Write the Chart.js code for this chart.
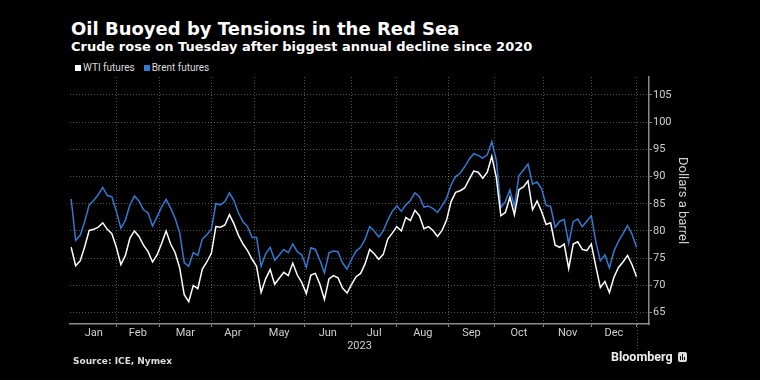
<!DOCTYPE html>
<html>
<head>
<meta charset="utf-8">
<script src="https://cdn.jsdelivr.net/npm/chart.js@4"></script>
<style>
  body { margin: 0; background: #000; width: 760px; height: 380px; overflow: hidden; position: relative; font-family: Roboto, "Noto Sans", sans-serif; color: #fff; }
  .txt { position: absolute; line-height: 1; white-space: nowrap; }
  #title { left: 71px; top: 20px; font-size: 18px; font-weight: bold; font-family: "DejaVu Sans", sans-serif; }
  #subtitle { left: 71px; top: 40px; font-size: 13px; font-weight: bold; font-family: "DejaVu Sans", sans-serif; }
  #legend { left: 75px; top: 63px; font-size: 10px; color: #ddd; display: flex; align-items: center; }
  #legend span.box { display: inline-block; width: 6px; height: 6px; margin-right: 2px; }
  #legend span.item { margin-right: 9px; display: flex; align-items: center; }
  #source { left: 73px; top: 357px; font-size: 9px; font-weight: bold; color: #ddd; font-family: "DejaVu Sans", sans-serif; }
  #logo { left: 611px; top: 351px; font-size: 12.5px; font-weight: bold; color: #eee; display: flex; align-items: center; }
  #logo svg { margin-left: 5px; }
  #wrap { position: absolute; left: 0; top: 0; width: 760px; height: 380px; }
</style>
</head>
<body>
<div id="title" class="txt">Oil Buoyed by Tensions in the Red Sea</div>
<div id="subtitle" class="txt">Crude rose on Tuesday after biggest annual decline since 2020</div>
<div id="legend" class="txt">
  <span class="item"><span class="box" style="background:#fff"></span>WTI futures</span>
  <span class="item"><span class="box" style="background:#3478d0"></span>Brent futures</span>
</div>
<div id="wrap"><canvas id="chart"></canvas></div>
<div id="source" class="txt">Source: ICE, Nymex</div>
<div id="logo" class="txt">Bloomberg<svg width="9" height="10" viewBox="0 0 9 10"><rect x="0" y="0" width="9" height="10" rx="2" fill="#ddd"/><rect x="2" y="4" width="1" height="4" fill="#000"/><rect x="4" y="2" width="1" height="6" fill="#000"/><rect x="6" y="5" width="1" height="3" fill="#000"/></svg></div>
<script>
// eixo x em dias de negociação (0 = início de jan/2023)
const monthStarts = [0, 20, 39, 62, 81, 103, 124, 144, 167, 187, 209, 230, 250];
const monthLabels = ["Jan", "Feb", "Mar", "Apr", "May", "Jun", "Jul", "Aug", "Sep", "Oct", "Nov", "Dec"];
const yearLabel = "2023";
const yTicks = [65, 67.5, 70, 72.5, 75, 77.5, 80, 82.5, 85, 87.5, 90, 92.5, 95, 97.5, 100, 102.5, 105];
const dayStep = 2; // um valor a cada 2 pregões

// Dólares por barril
const wti = [77.0, 73.6, 74.5, 77.1, 80.1, 80.3, 80.7, 81.5, 80.3, 79.5,
  77.0, 73.8, 75.5, 78.7, 80.0, 79.0, 77.4, 76.2, 74.3, 75.6,
  77.7, 80.0, 77.6, 76.0, 73.2, 68.3, 67.0, 70.0, 69.4, 73.0,
  74.3, 75.9, 80.8, 80.7, 81.1, 83.0, 81.3, 79.2, 77.6, 76.4,
  74.8, 73.5, 68.7, 71.2, 72.9, 70.2, 71.3, 72.4, 71.8, 74.1,
  71.9, 70.5, 68.5, 71.9, 72.2, 70.2, 67.4, 71.2, 71.8, 71.4,
  69.5, 68.6, 70.2, 71.6, 72.2, 74.0, 76.6, 75.8, 74.8, 75.7,
  78.5, 79.6, 80.8, 80.0, 82.5, 81.9, 83.8, 82.8, 80.4, 80.8,
  80.1, 79.0, 80.1, 82.0, 85.4, 87.1, 87.4, 87.9, 89.5, 91.0,
  90.8, 89.7, 90.8, 93.7, 89.8, 82.8, 83.4, 86.2, 83.0, 87.6,
  88.1, 89.2, 83.9, 85.5, 83.6, 81.2, 81.5, 77.4, 77.0, 77.6,
  73.1, 77.6, 78.0, 76.6, 76.4, 77.6, 73.5, 69.6, 70.7, 68.7,
  71.5, 73.3, 74.3, 75.5, 73.8, 71.6];
const brent = [85.9, 78.3, 79.2, 81.7, 84.8, 85.6, 86.7, 88.0, 86.5, 86.3,
  83.6, 80.5, 82.0, 84.8, 86.4, 85.5, 83.9, 83.3, 80.9, 82.6,
  84.4, 85.8, 84.2, 82.3, 79.7, 74.2, 73.5, 76.0, 75.5, 78.5,
  79.3, 80.3, 85.0, 84.8, 85.4, 87.0, 85.6, 83.3, 81.7, 80.8,
  78.8, 78.8, 73.5, 75.8, 77.0, 74.6, 75.6, 76.6, 76.0, 77.6,
  76.2, 75.6, 73.3, 76.9, 76.6, 74.6, 72.3, 76.0, 76.3, 76.2,
  74.1, 73.0, 74.8, 76.3, 77.0, 78.5, 80.8, 80.0, 78.9, 80.0,
  82.0, 83.6, 84.6, 83.6, 84.8, 85.6, 87.0, 86.3, 84.4, 84.6,
  84.1, 83.4, 84.6, 86.0, 88.5, 90.0, 90.6, 91.8, 93.2, 94.2,
  93.9, 93.4, 94.0, 96.4, 93.0, 84.3, 85.4, 87.6, 84.5, 90.2,
  91.2, 92.3, 88.6, 89.0, 87.8, 84.7, 84.5, 80.7, 81.8, 82.1,
  77.7, 81.7, 82.2, 80.8, 81.8, 82.8, 78.0, 74.5, 75.6, 73.2,
  76.3, 78.1, 79.5, 81.0, 79.4, 77.0];

const gridColor = "rgba(255,255,255,0.32)";
const axisColor = "#8a8a8a";
const tickTextColor = "#d0d0d0";

// ticks do eixo x: fronteiras dos meses (grade) e meios dos meses (rótulos)
const boundaries = monthStarts.slice(1);
const midLabels = new Map();
for (let i = 0; i < monthLabels.length; i++) {
  midLabels.set((monthStarts[i] + monthStarts[i + 1]) / 2, monthLabels[i]);
}
const xTickValues = [...boundaries, ...midLabels.keys()].sort((a, b) => a - b);

const toPoints = arr => arr.map((v, i) => ({ x: i * dayStep, y: v }));

// linha longa no fim do ano, abaixo do eixo
const yearLine = {
  id: "yearLine",
  afterDraw(chart) {
    const { ctx, chartArea } = chart;
    const x = Math.round(chart.scales.x.getPixelForValue(monthStarts[monthStarts.length - 1])) + 0.5;
    ctx.save();
    ctx.strokeStyle = gridColor;
    ctx.lineWidth = 1;
    ctx.setLineDash([1, 2]);
    ctx.beginPath();
    ctx.moveTo(x, chartArea.bottom);
    ctx.lineTo(x, chartArea.bottom + 26);
    ctx.stroke();
    ctx.restore();
  }
};

const ctx = document.getElementById("chart").getContext("2d");
new Chart(ctx, {
  type: "line",
  data: {
    datasets: [
      {
        label: "WTI futures",
        data: toPoints(wti),
        borderColor: "#ffffff",
        borderWidth: 1.5,
        pointRadius: 0,
        tension: 0,
      },
      {
        label: "Brent futures",
        data: toPoints(brent),
        borderColor: "#3478d0",
        borderWidth: 1.5,
        pointRadius: 0,
        tension: 0,
      },
    ],
  },
  options: {
    responsive: true,
    maintainAspectRatio: false,
    animation: false,
    layout: { padding: { left: 70, top: 77, right: 70, bottom: 27 } },
    plugins: { legend: { display: false }, tooltip: { enabled: false } },
    scales: {
      x: {
        type: "linear",
        min: -0.5,
        max: 255.5,
        afterBuildTicks: s => { s.ticks = xTickValues.map(v => ({ value: v })); },
        afterFit: s => { s.height = 29; },
        ticks: {
          autoSkip: false,
          maxRotation: 0,
          padding: 0,
          color: tickTextColor,
          font: { family: "Roboto", size: 11 },
          callback: v => midLabels.get(v) || "",
        },
        grid: {
          color: c => (c.tick && boundaries.includes(c.tick.value) ? gridColor : "transparent"),
          tickColor: c => (c.tick && boundaries.includes(c.tick.value) ? axisColor : "transparent"),
          tickLength: 3,
        },
        border: { color: axisColor, width: 1.5, dash: [1, 2] },
        title: { display: true, text: yearLabel, color: tickTextColor, font: { family: "Roboto", size: 11 }, padding: 0 },
      },
      y: {
        position: "right",
        min: 62.9,
        max: 108.3,
        afterBuildTicks: s => { s.ticks = yTicks.map(v => ({ value: v })); },
        afterFit: s => { s.width = 41; },
        ticks: {
          padding: 1,
          color: tickTextColor,
          font: { family: "Roboto", size: 11 },
          callback: v => (v % 5 === 0 ? v : ""),
        },
        grid: {
          color: c => (c.tick && c.tick.value % 5 === 0 ? gridColor : "transparent"),
          tickColor: axisColor,
          tickLength: 3,
        },
        border: { color: axisColor, width: 1.5, dash: [1, 2] },
        title: { display: true, text: "Dollars a barrel", color: tickTextColor, font: { family: "Roboto", size: 13 }, padding: 0 },
      },
    },
  },
  plugins: [yearLine],
});
</script>
</body>
</html>
